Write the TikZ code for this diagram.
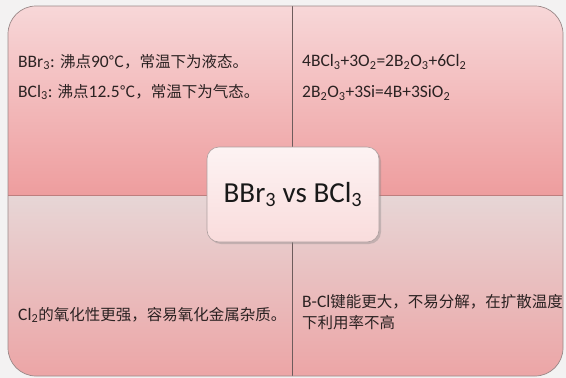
\documentclass[tikz,border=0pt]{standalone}
\usepackage{fontspec}
\setmainfont{Carlito}
\newfontfamily\cjk{Noto Sans CJK SC}
\usetikzlibrary{shadows}
\definecolor{bg}{HTML}{F3F2F2}
\definecolor{toptop}{HTML}{F7D7D8}
\definecolor{topbot}{HTML}{EE9D9E}
\definecolor{bottop}{HTML}{E7D6D6}
\definecolor{botbot}{HTML}{ECA5A6}
\definecolor{edge}{HTML}{9A8888}
\definecolor{divider}{HTML}{6E5C5C}
\definecolor{txt}{HTML}{2B2222}
\definecolor{boxtop}{HTML}{FDF3F3}
\definecolor{boxbot}{HTML}{F9DCDC}
\newcommand\sbs[1]{\textsubscript{#1}}
\newcommand\zh[1]{{\cjk\fontsize{15.5}{21}\selectfont #1}}
\tikzset{
  quadtext/.style={anchor=west, inner sep=0pt, text=txt, font=\fontsize{17.5}{21}\selectfont, align=left},
  centerbox/.style={draw=edge!80, line width=0.6pt, rounded corners=12pt,
     top color=boxtop, bottom color=boxbot, text=black!90,
     minimum width=172pt, minimum height=95pt, inner sep=0pt,
     font=\fontsize{29}{34}\selectfont,
     drop shadow={opacity=0.35, shadow xshift=2pt, shadow yshift=-2pt}}
}
\begin{document}
\begin{tikzpicture}[x=1pt,y=-1pt]
\useasboundingbox (0,0) rectangle (566,378);
\fill[bg] (0,0) rectangle (566,378);
\begin{scope}
  \clip[rounded corners=28pt] (8,6) rectangle (563,376);
  \shade[top color=toptop, bottom color=topbot] (8,6) rectangle (292,195);
  \shade[top color=toptop, bottom color=topbot] (292,6) rectangle (563,195);
  \shade[top color=bottop, bottom color=botbot] (8,195) rectangle (292,376);
  \shade[top color=bottop, bottom color=botbot] (292,195) rectangle (563,376);
  \draw[topbot!80!black, line width=0.5pt] (8,195) -- (563,195);
  \draw[divider, line width=0.7pt] (292,6) -- (292,376);
\end{scope}
\draw[edge, line width=0.7pt, rounded corners=28pt] (8,6) rectangle (563,376);

\node[quadtext] (tl1) at (18,62) {BBr\sbs{3}: \zh{沸点}90\zh{℃，常温下为液态。}};
\node[quadtext] (tl2) at (18,92) {BCl\sbs{3}: \zh{沸点}12.5\zh{℃，常温下为气态。}};
\node[quadtext] (tr1) at (302,62) {4BCl\sbs{3}+3O\sbs{2}=2B\sbs{2}O\sbs{3}+6Cl\sbs{2}};
\node[quadtext] (tr2) at (302,93) {2B\sbs{2}O\sbs{3}+3Si=4B+3SiO\sbs{2}};
\node[quadtext] (bl) at (18,315) {Cl\sbs{2}\zh{的氧化性更强，容易氧化金属杂质。}};
\node[quadtext] (br) at (302,312.5) {B-Cl\zh{键能更大，不易分解，在扩散温度}\\\zh{下利用率不高}};

\node[centerbox] (center) at (293,194.5) {BBr\sbs{3} vs BCl\sbs{3}};
\end{tikzpicture}
\end{document}
